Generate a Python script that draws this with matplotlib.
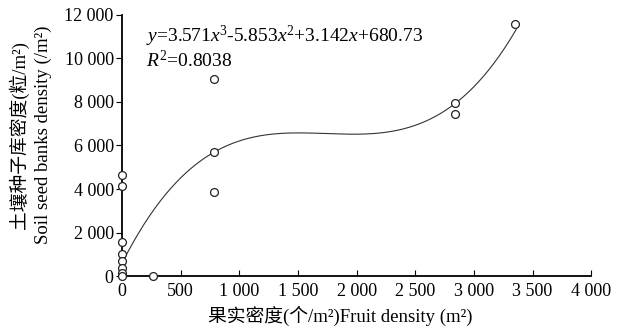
import numpy as np
import matplotlib.pyplot as plt
from matplotlib.ticker import FuncFormatter

plt.rcParams['font.family'] = ['Liberation Serif', 'Noto Sans CJK SC']
plt.rcParams['mathtext.fontset'] = 'custom'
plt.rcParams['mathtext.rm'] = 'Liberation Serif'
plt.rcParams['mathtext.it'] = 'Liberation Serif:italic'

fruit_density = [0, 0, 0, 0, 0, 0, 0, 0, 260, 780, 780, 780, 2840, 2840, 3350]
seed_density = [4660, 4150, 1580, 1015, 690, 380, 150, 0, 0, 9050, 5700, 3850, 7950, 7450, 11600]

# points along the drawn trend line, used for the cubic fit
trend_x = [40, 780, 1692, 2205, 2863, 3376]
trend_y = [1000, 5700, 6550, 6540, 8080, 11460]

x_ticks = [0, 500, 1000, 1500, 2000, 2500, 3000, 3500, 4000]
y_ticks = [0, 2000, 4000, 6000, 8000, 10000, 12000]

fig = plt.figure(figsize=(6.29, 3.31), dpi=100)
ax = fig.add_axes([0.194, 0.166, 0.746, 0.789])

coef = np.polyfit(trend_x, trend_y, 3)
xs = np.linspace(10, 3360, 300)
ax.plot(xs, np.polyval(coef, xs), color='#333333', lw=0.8)
ax.scatter(fruit_density, seed_density, s=32, facecolors='white',
           edgecolors='#222222', linewidths=0.9, zorder=3, clip_on=False)

ax.set_xlim(0, 4000)
ax.set_ylim(0, 12000)
ax.set_xticks(x_ticks)
ax.set_yticks(y_ticks)
fmt = FuncFormatter(lambda v, p: f"{int(v):,}".replace(",", " "))
ax.xaxis.set_major_formatter(fmt)
ax.yaxis.set_major_formatter(fmt)
ax.spines['top'].set_visible(False)
ax.spines['right'].set_visible(False)
ax.spines['left'].set_linewidth(1.3)
ax.spines['bottom'].set_linewidth(1.3)
ax.tick_params(axis='x', direction='in', length=4, labelsize=13, pad=5)
ax.tick_params(axis='y', direction='out', length=4, labelsize=13, pad=2)

ax.set_xlabel('果实密度(个/m²)Fruit density (m²)', fontsize=13.5)
ax.xaxis.set_label_coords(0.464, -0.115)
ax.set_ylabel('土壤种子库密度(粒/m²)\nSoil seed banks density (/m²)',
              fontsize=13.5, linespacing=1.4)
ax.yaxis.set_label_coords(-0.15, 0.54)

ax.text(0.052, 0.895, '$\\mathit{y}$=3.571$\\mathit{x}^3$-5.853$\\mathit{x}^2$+3.142$\\mathit{x}$+680.73',
        transform=ax.transAxes, fontsize=14)
ax.text(0.052, 0.80, '$\\mathit{R}^2$=0.8038', transform=ax.transAxes, fontsize=14)

fig.savefig('out.png', dpi=100)
